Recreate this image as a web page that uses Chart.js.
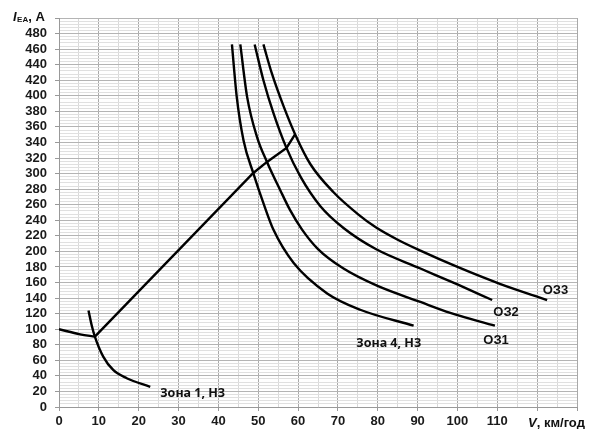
<!DOCTYPE html>
<html>
<head>
<meta charset="utf-8">
<script src="https://cdn.jsdelivr.net/npm/chart.js@4/dist/chart.umd.min.js"></script>
<style>
  html, body { margin: 0; padding: 0; background: #fff; }
  #wrap { width: 597px; height: 429px; position: relative; }
</style>
</head>
<body>
<div id="wrap"><canvas id="chart"></canvas></div>
<script>
// Curves: speed V (km/h) and current I (A)
const zone1LeftV = [0, 5.3, 9];
const zone1LeftI = [100, 93.4, 90.4];

const zone1SteepV = [7.4, 8.2, 9, 11.1, 13.6, 17, 22.9];
const zone1SteepI = [124, 105, 90.4, 64.7, 47.6, 37, 26];

const switchLineV = [9, 48.7, 52.2, 57.1, 59.2];
const switchLineI = [90.4, 300.5, 315, 333, 350];

const zone4V = [43.4, 44.6, 46.3, 48.8, 51.3, 53.8, 58.9, 67.3, 75.6, 89];
const zone4I = [466, 399, 343, 300, 262, 228, 185, 146, 125, 104.5];

const oz1V = [45.5, 47.2, 49.7, 52.2, 55.5, 58, 61, 65, 71.4, 79.8, 90.7, 98.2, 109.4];
const oz1I = [466, 399, 347, 315, 279, 253, 228, 203, 178, 156, 135, 121, 104.5];

const oz2V = [49.1, 51.3, 53.8, 57, 60.6, 65.6, 71.4, 79.5, 90.7, 100, 108.7];
const oz2I = [466, 420, 378, 334, 296, 258, 230, 203, 178, 157.5, 137.5];

const oz3V = [51.3, 53.4, 56.4, 59.3, 63.1, 68.9, 75, 79.5, 85, 90.7, 100, 110.8, 122.5];
const oz3I = [466, 429, 386, 350, 312, 276, 248, 231, 215, 201, 180, 158, 137.5];

// Curve captions: text, V, I (left edge, middle of the text)
const captionText = ['Зона 1, НЗ', 'Зона 4, НЗ', 'ОЗ1', 'ОЗ2', 'ОЗ3'];
const captionV = [25.4, 74.6, 106.5, 109, 121.4];
const captionI = [18, 82, 85, 121, 150];

const toPoints = (xs, ys) => xs.map((x, i) => ({ x, y: ys[i] }));

const curve = (xs, ys, smooth) => ({
    data: toPoints(xs, ys),
    showLine: true,
    borderColor: '#000',
    borderWidth: 2.4,
    pointRadius: 0,
    fill: false,
    tension: 0,
    cubicInterpolationMode: smooth ? 'monotone' : 'default'
});

const tickFont = { family: 'Liberation Sans, Arial, sans-serif', size: 13, weight: 'bold' };

// Extra texts: axis titles and curve captions
const textPlugin = {
    id: 'texts',
    afterDraw(chart) {
        const { ctx, scales } = chart;
        ctx.save();
        ctx.fillStyle = '#111';
        ctx.textBaseline = 'middle';
        ctx.textAlign = 'left';

        captionText.forEach((t, i) => {
            const isZone = t.startsWith('Зона');
            ctx.font = isZone
                ? 'bold 12.5px "Noto Sans", sans-serif'
                : 'bold 13px "Liberation Sans", Arial, sans-serif';
            ctx.fillText(t, scales.x.getPixelForValue(captionV[i]), scales.y.getPixelForValue(captionI[i]));
        });

        // y title: I_EA, A
        let x = 13;
        const y = 17;
        ctx.font = 'italic bold 13px "Liberation Sans", Arial, sans-serif';
        ctx.fillText('I', x, y);
        x += ctx.measureText('I').width + 0.5;
        ctx.font = 'bold 8px "Liberation Sans", Arial, sans-serif';
        ctx.fillText('EA', x, y + 3);
        x += ctx.measureText('EA').width;
        ctx.font = 'bold 13px "Liberation Sans", Arial, sans-serif';
        ctx.fillText(', A', x, y);

        // x title: V, км/год
        let xx = 528;
        const yy = 423;
        ctx.font = 'italic bold 13px "Liberation Sans", Arial, sans-serif';
        ctx.fillText('V', xx, yy);
        xx += ctx.measureText('V').width;
        ctx.font = 'bold 13px "Liberation Sans", Arial, sans-serif';
        ctx.fillText(', км/год', xx, yy);
        ctx.restore();
    }
};

new Chart(document.getElementById('chart'), {
    type: 'scatter',
    data: {
        datasets: [
            curve(zone1LeftV, zone1LeftI, true),
            curve(zone1SteepV, zone1SteepI, true),
            curve(switchLineV, switchLineI, false),
            curve(zone4V, zone4I, true),
            curve(oz1V, oz1I, true),
            curve(oz2V, oz2I, true),
            curve(oz3V, oz3I, true)
        ]
    },
    options: {
        responsive: true,
        maintainAspectRatio: false,
        animation: false,
        layout: { padding: { top: 18, right: 20, left: 0, bottom: 0 } },
        plugins: { legend: { display: false }, tooltip: { enabled: false } },
        scales: {
            x: {
                type: 'linear',
                min: 0,
                max: 130,
                afterFit: (s) => { s.height = 22; },
                border: { color: '#999', width: 1 },
                grid: {
                    color: (c) => (c.tick.value % 10 === 0 ? '#a9a9a9' : '#d9d9d9'),
                    tickColor: (c) => (c.tick.value % 10 === 0 ? '#999' : 'rgba(0,0,0,0)'),
                    tickLength: 4
                },
                ticks: {
                    stepSize: 5,
                    autoSkip: false,
                    maxRotation: 0,
                    padding: 3,
                    color: '#1a1a1a',
                    font: tickFont,
                    callback: (v) => (v % 10 === 0 && v <= 110 ? v : '')
                }
            },
            y: {
                type: 'linear',
                min: 0,
                max: 500,
                afterFit: (s) => { s.width = 59; },
                border: { color: '#999', width: 1 },
                grid: {
                    color: (c) => (c.tick.value % 20 === 0 ? '#b4b4b4' : '#e0e0e0'),
                    tickColor: (c) => (c.tick.value % 20 === 0 ? '#999' : 'rgba(0,0,0,0)'),
                    tickLength: 4
                },
                ticks: {
                    stepSize: 4,
                    autoSkip: false,
                    padding: 8,
                    color: '#1a1a1a',
                    font: tickFont,
                    callback: (v) => (v % 20 === 0 && v < 500 ? v : '')
                }
            }
        }
    },
    plugins: [textPlugin]
});
</script>
</body>
</html>
